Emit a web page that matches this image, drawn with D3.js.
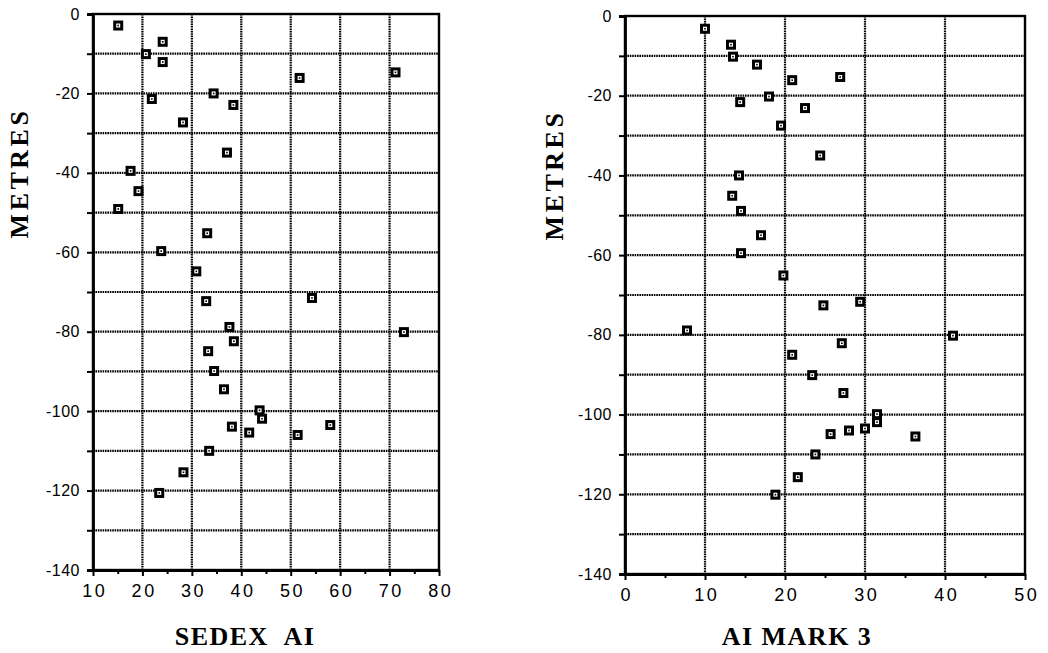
<!DOCTYPE html>
<html>
<head>
<meta charset="utf-8">
<script src="https://cdn.jsdelivr.net/npm/d3@7"></script>
<style>
  html, body { margin: 0; padding: 0; background: #fff; }
  svg { display: block; }
</style>
</head>
<body>
<svg id="chart" width="1048" height="653"></svg>
<script>
// Depth (metres) against alteration index, two instruments
const sedexAI = [15.1, 24.1, 20.7, 24.1, 51.8, 71.2, 21.9, 34.4, 38.4, 28.2, 37.1, 17.6, 19.2, 15.1,
                 33.1, 23.8, 30.9, 32.9, 54.3, 37.6, 38.5, 72.9, 33.3, 34.5, 36.5,
                 43.7, 44.2, 38.1, 41.6, 51.4, 58.0, 33.5, 28.3, 23.4];
const sedexDepth = [-2.9, -7.0, -10.1, -12.1, -16.1, -14.7, -21.4, -20.0, -22.9, -27.3, -34.9, -39.5, -44.6, -49.1,
                    -55.2, -59.7, -64.8, -72.3, -71.5, -78.8, -82.4, -80.1, -84.9, -89.9, -94.5,
                    -99.8, -101.9, -103.9, -105.4, -106.0, -103.5, -110.0, -115.4, -120.6];

const mark3AI = [10.0, 13.25, 13.5, 16.5, 20.9, 26.9, 14.4, 18.0, 22.5, 19.5, 24.4, 14.25, 13.4, 14.5,
                 17.0, 14.5, 19.8, 24.8, 29.4, 7.75, 27.1, 41.0, 20.9, 23.4, 27.3,
                 31.5, 31.5, 30.0, 28.0, 25.7, 36.3, 23.8, 21.6, 18.8];
const mark3Depth = [-3.2, -7.2, -10.2, -12.2, -16.1, -15.3, -21.6, -20.2, -23.1, -27.5, -35.0, -40.0, -45.1, -48.9,
                    -55.0, -59.5, -65.1, -72.6, -71.7, -78.9, -82.1, -80.2, -85.0, -90.1, -94.6,
                    -99.9, -101.9, -103.5, -104.0, -104.9, -105.5, -110.0, -115.7, -120.1];

const depthTicks = [0, -20, -40, -60, -80, -100, -120, -140];
const depthGrid = [-10, -20, -30, -40, -50, -60, -70, -80, -90, -100, -110, -120, -130];
const sedexTicks = [10, 20, 30, 40, 50, 60, 70, 80];
const mark3Ticks = [0, 10, 20, 30, 40, 50];

const svg = d3.select("#chart");

function panel(opts) {
  const g = svg.append("g");
  const x = d3.scaleLinear().domain(opts.xDomain).range([opts.left, opts.right]);
  const y = d3.scaleLinear().domain([0, -140]).range([opts.top, opts.bottom]);

  // dotted grid
  const grid = g.append("g").attr("stroke", "#000").attr("stroke-width", 2.2)
    .attr("stroke-dasharray", "1.6,0.8").attr("fill", "none");
  grid.selectAll("line.h").data(depthGrid).join("line")
    .attr("x1", opts.left).attr("x2", opts.right)
    .attr("y1", d => y(d)).attr("y2", d => y(d));
  grid.selectAll("line.v").data(opts.xGrid).join("line")
    .attr("x1", d => x(d)).attr("x2", d => x(d))
    .attr("y1", opts.top).attr("y2", opts.bottom);

  // frame
  g.append("rect")
    .attr("x", opts.left).attr("y", opts.top)
    .attr("width", opts.right - opts.left).attr("height", opts.bottom - opts.top)
    .attr("fill", "none").attr("stroke", "#000").attr("stroke-width", 2.4);

  // y axis
  const yAxis = d3.axisLeft(y).tickValues([0].concat(depthGrid, [-140]))
    .tickSize(6).tickFormat(d => depthTicks.includes(d) ? d : "");
  const ya = g.append("g").attr("transform", `translate(${opts.left},0)`).call(yAxis);
  ya.select(".domain").attr("stroke-width", 2.8);
  ya.selectAll(".tick line").attr("stroke-width", 2);
  ya.selectAll(".tick text")
    .attr("x", -13)
    .attr("font-family", "'Liberation Sans', Arial, sans-serif")
    .attr("font-size", 16).attr("fill", "#000")
    .attr("letter-spacing", 0.5);

  // x axis with minor ticks
  const xAxis = d3.axisBottom(x).tickValues(opts.xTicks).tickSize(6).tickSizeOuter(0);
  const xa = g.append("g").attr("transform", `translate(0,${opts.bottom})`).call(xAxis);
  xa.select(".domain").attr("stroke-width", 2.8);
  xa.selectAll(".tick line").attr("stroke-width", 2);
  xa.selectAll(".tick text")
    .attr("y", 14)
    .attr("font-family", "'Liberation Sans', Arial, sans-serif")
    .attr("font-size", 18).attr("fill", "#000")
    .attr("letter-spacing", 2.5)
    .attr("dx", 1.2);
  const minorAxis = d3.axisBottom(x).tickValues(opts.xMinor).tickSize(4).tickFormat("");
  const xm = g.append("g").attr("transform", `translate(0,${opts.bottom})`).call(minorAxis);
  xm.select(".domain").remove();
  xm.selectAll(".tick line").attr("stroke-width", 2);

  // markers
  const pts = g.append("g").selectAll("g").data(opts.xs.map((v, i) => [v, opts.ys[i]])).join("g")
    .attr("transform", d => `translate(${x(d[0])},${y(d[1])})`);
  pts.append("rect").attr("x", -5).attr("y", -5).attr("width", 10).attr("height", 10).attr("fill", "#000");
  pts.append("rect").attr("x", -2).attr("y", -2).attr("width", 4).attr("height", 4).attr("fill", "#fff");
  pts.append("rect").attr("x", -0.8).attr("y", -0.8).attr("width", 1.6).attr("height", 1.6).attr("fill", "#000");

  // axis titles
  g.append("text")
    .attr("transform", `translate(${opts.yTitleX},${opts.yTitleY}) rotate(-90)`)
    .attr("text-anchor", "middle")
    .attr("font-family", "'Liberation Serif', 'Times New Roman', serif")
    .attr("font-weight", "bold").attr("font-size", 26).attr("letter-spacing", 3.5)
    .text("METRES");
  g.append("text")
    .attr("x", opts.xTitleX).attr("y", 645)
    .attr("text-anchor", "middle")
    .attr("font-family", "'Liberation Serif', 'Times New Roman', serif")
    .attr("font-weight", "bold").attr("font-size", 26).attr("letter-spacing", 1.5)
    .style("white-space", "pre")
    .text(opts.xTitle);
}

panel({
  left: 93, right: 439, top: 14, bottom: 570,
  xDomain: [10, 80], xTicks: sedexTicks,
  xGrid: [20, 30, 40, 50, 60, 70],
  xMinor: [15, 25, 35, 45, 55, 65, 75],
  xs: sedexAI, ys: sedexDepth,
  yTitleX: 28, yTitleY: 173,
  xTitleX: 245, xTitle: "SEDEX  AI"
});

panel({
  left: 625, right: 1025, top: 16, bottom: 574,
  xDomain: [0, 50], xTicks: mark3Ticks,
  xGrid: [10, 20, 30, 40],
  xMinor: [5, 15, 25, 35, 45],
  xs: mark3AI, ys: mark3Depth,
  yTitleX: 563, yTitleY: 175,
  xTitleX: 797, xTitle: "AI MARK 3"
});
</script>
</body>
</html>
